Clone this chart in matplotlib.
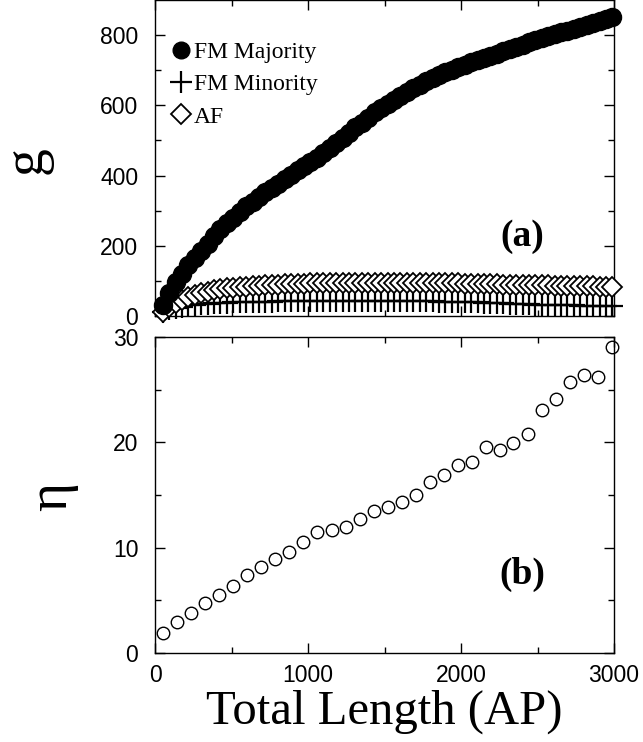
import numpy as np
import matplotlib
matplotlib.use("Agg")
import matplotlib.pyplot as plt
from matplotlib.lines import Line2D

# Total length (AP) sampling for panel (a)
length_a = [50, 92, 134, 176, 218, 260, 302, 344, 386, 428, 470, 512, 554, 596,
            638, 680, 722, 764, 806, 848, 890, 932, 974, 1016, 1058, 1100, 1142,
            1184, 1226, 1268, 1310, 1352, 1394, 1436, 1478, 1520, 1562, 1604,
            1646, 1688, 1730, 1772, 1814, 1856, 1898, 1940, 1982, 2024, 2066,
            2108, 2150, 2192, 2234, 2276, 2318, 2360, 2402, 2444, 2486, 2528,
            2570, 2612, 2654, 2696, 2738, 2780, 2822, 2864, 2906, 2948, 2990]

fm_major = [32, 66, 97, 121, 145, 166, 186, 205, 229, 247, 264, 279, 296, 312,
            326, 339, 352, 364, 377, 390, 402, 415, 427, 439, 451, 465, 479,
            494, 508, 522, 537, 551, 565, 580, 593, 605, 616, 628, 639, 650,
            659, 668, 677, 686, 695, 701, 708, 715, 722, 729, 735, 741, 747,
            754, 760, 767, 773, 779, 785, 791, 797, 803, 808, 813, 818, 822,
            828, 834, 840, 846, 853]

fm_minor = [12, 19, 24, 27, 30, 32, 34, 35, 36, 37, 38, 39, 39, 40, 40, 41, 41,
            41, 42, 42, 42, 42, 43, 43, 43, 43, 43, 43, 43, 43, 43, 43, 43, 43,
            43, 43, 43, 42, 42, 42, 42, 42, 42, 41, 41, 41, 40, 40, 39, 39, 38,
            37, 37, 36, 35, 35, 34, 33, 32, 31, 31, 30, 30, 30, 30, 29, 29, 29,
            29, 29, 29]

af = [12, 26, 37, 46, 54, 60, 65, 69, 73, 76, 79, 81, 83, 84, 85, 86, 87, 88,
      89, 90, 91, 92, 92, 93, 93, 94, 94, 94, 95, 95, 95, 95, 95, 95, 95, 95,
      95, 95, 95, 95, 94, 94, 94, 94, 93, 93, 93, 92, 92, 91, 91, 90, 90, 89,
      89, 88, 88, 88, 87, 87, 87, 86, 86, 86, 85, 85, 85, 85, 84, 84, 84]

# panel (b)
length_b = [50, 142, 233, 327, 418, 510, 601, 693, 784, 876, 967, 1061, 1155,
            1246, 1340, 1431, 1521, 1612, 1704, 1797, 1889, 1982, 2070, 2163,
            2255, 2342, 2436, 2527, 2619, 2712, 2804, 2897, 2985]
eta = [1.93, 2.9, 3.77, 4.72, 5.54, 6.4, 7.38, 8.2, 8.93, 9.62, 10.57, 11.52,
       11.68, 12.0, 12.7, 13.5, 13.9, 14.37, 15.0, 16.27, 16.9, 17.85, 18.17,
       19.6, 19.28, 19.97, 20.8, 23.1, 24.1, 25.7, 26.4, 26.24, 29.03]

serif = "Liberation Serif"
sans = "Liberation Sans"

fig = plt.figure(figsize=(6.43, 7.42), dpi=100)
W, H = 643, 742
ax1 = fig.add_axes([155 / W, 1 - 316 / H, 459 / W, 316 / H])
ax2 = fig.add_axes([155 / W, 1 - 653 / H, 459 / W, 316 / H])

# panel (a)
ax1.plot(length_a, fm_minor, ls="none", marker="+", ms=16, mew=1.6,
         color="black", clip_on=False, zorder=2)
ax1.plot(length_a, af, ls="none", marker="D", ms=10.5, mew=1.3, mfc="white",
         color="black", clip_on=False, zorder=3)
ax1.plot(length_a, fm_major, ls="none", marker="o", ms=13, color="black",
         clip_on=False, zorder=4)
ax1.set_xlim(0, 3000)
ax1.set_ylim(0, 900)
ax1.set_yticks([0, 200, 400, 600, 800])
ax1.set_yticks(np.arange(100, 900, 200), minor=True)
ax1.set_xticks([0, 1000, 2000, 3000])
ax1.set_xticks([500, 1500, 2500], minor=True)
ax1.tick_params(axis="x", labelbottom=False)
ax1.set_ylabel("g", fontsize=40, family=serif, va="center")
ax1.yaxis.set_label_coords(-0.28, 0.494)
ax1.text(0.80, 0.25, "(a)", transform=ax1.transAxes, fontsize=27,
         fontweight="bold", family=serif, ha="center", va="center")

handles = [
    Line2D([], [], ls="none", marker="o", ms=12, color="black"),
    Line2D([], [], ls="none", marker="+", ms=16, mew=1.6, color="black"),
    Line2D([], [], ls="none", marker="D", ms=10, mew=1.3, mfc="white", color="black"),
]
ax1.legend(handles, ["FM Majority", "FM Minority", "AF"], loc="upper left",
           bbox_to_anchor=(0.0, 0.92), frameon=False, handlelength=0.8,
           handletextpad=0.15, labelspacing=0.45, borderpad=0.2,
           prop={"family": serif, "size": 17})

# panel (b)
ax2.plot(length_b, eta, ls="none", marker="o", ms=9, mew=1.0, mfc="none",
         color="black", clip_on=False)
ax2.set_xlim(0, 3000)
ax2.set_ylim(0, 30)
ax2.set_yticks([0, 10, 20, 30])
ax2.set_yticks([5, 15, 25], minor=True)
ax2.set_xticks([0, 1000, 2000, 3000])
ax2.set_xticks([500, 1500, 2500], minor=True)
ax2.set_ylabel("η", fontsize=40, family=serif, va="center")
ax2.yaxis.set_label_coords(-0.225, 0.494)
ax2.set_xlabel("Total Length (AP)", fontsize=35, family=serif, va="center")
ax2.xaxis.set_label_coords(0.5, -0.187)
ax2.text(0.80, 0.25, "(b)", transform=ax2.transAxes, fontsize=27,
         fontweight="bold", family=serif, ha="center", va="center")

for ax in (ax1, ax2):
    for s in ax.spines.values():
        s.set_linewidth(1.0)
    ax.tick_params(which="both", direction="in", top=True, right=True,
                   labelsize=16.5, width=1.0)
    ax.tick_params(which="major", length=7)
    ax.tick_params(which="minor", length=4)
    ax.tick_params(axis="y", which="major", pad=12)
    ax.tick_params(axis="x", which="major", pad=8)
    for lab in ax.get_xticklabels() + ax.get_yticklabels():
        lab.set_family(sans)

fig.savefig("out.png", dpi=100)
